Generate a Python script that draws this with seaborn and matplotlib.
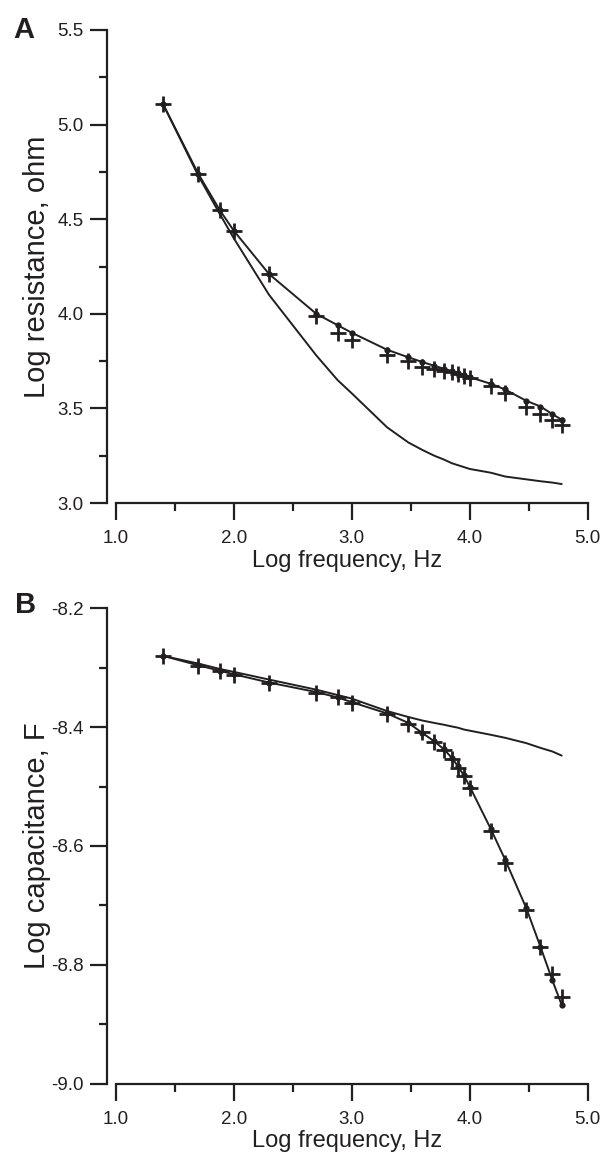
import numpy as np
import pandas as pd
import seaborn as sns
import matplotlib.pyplot as plt
from matplotlib.ticker import MultipleLocator, FormatStrFormatter

sns.set_theme(style="ticks")
plt.rcParams['font.family'] = ['Liberation Sans', 'DejaVu Sans']
plt.rcParams['axes.unicode_minus'] = False

ink = '#231f20'

# log frequency (Hz) of the measurement points
log_freq = [1.40, 1.70, 1.88, 2.00, 2.30, 2.70, 2.88, 3.00, 3.30, 3.48, 3.60, 3.70,
            3.78, 3.85, 3.90, 3.95, 4.00, 4.18, 4.30, 4.48, 4.60, 4.70, 4.78]

# panel A - log resistance
res_measured = [5.11, 4.74, 4.55, 4.44, 4.21, 3.99, 3.90, 3.86, 3.78, 3.75, 3.72, 3.71,
                3.70, 3.69, 3.68, 3.67, 3.66, 3.62, 3.58, 3.51, 3.47, 3.44, 3.41]
res_fit = [5.11, 4.74, 4.55, 4.44, 4.21, 4.00, 3.94, 3.90, 3.81, 3.77, 3.745, 3.725,
           3.71, 3.697, 3.685, 3.675, 3.665, 3.63, 3.60, 3.54, 3.51, 3.47, 3.44]
res_model = [5.11, 4.73, 4.53, 4.40, 4.10, 3.78, 3.65, 3.58, 3.40, 3.32, 3.28, 3.25,
             3.23, 3.21, 3.20, 3.19, 3.18, 3.16, 3.14, 3.125, 3.115, 3.108, 3.10]

# panel B - log capacitance
cap_measured = [-8.280, -8.297, -8.306, -8.312, -8.325, -8.342, -8.350, -8.359, -8.378,
                -8.394, -8.409, -8.425, -8.439, -8.453, -8.469, -8.483, -8.503, -8.575,
                -8.629, -8.708, -8.771, -8.815, -8.855]
cap_fit = [-8.280, -8.296, -8.305, -8.311, -8.325, -8.341, -8.350, -8.358, -8.377,
           -8.393, -8.410, -8.424, -8.437, -8.452, -8.466, -8.481, -8.500, -8.572,
           -8.623, -8.705, -8.770, -8.826, -8.868]
cap_model = [-8.280, -8.293, -8.302, -8.307, -8.320, -8.337, -8.346, -8.352, -8.373,
             -8.383, -8.389, -8.393, -8.396, -8.399, -8.401, -8.404, -8.406, -8.413,
             -8.418, -8.427, -8.435, -8.441, -8.448]

fig = plt.figure(figsize=(6.02, 11.55), dpi=100)
axA = fig.add_axes([107.3 / 602, 1 - 503 / 1155, 480.4 / 602, 473 / 1155])
axB = fig.add_axes([107.3 / 602, 1 - 1083.5 / 1155, 480.4 / 602, 475.2 / 1155])


def draw(ax, measured, fit, model):
    sns.lineplot(x=log_freq, y=model, ax=ax, color=ink, lw=1.4)
    sns.lineplot(x=log_freq, y=fit, ax=ax, color=ink, lw=1.4, marker='o',
                 markersize=4.5, markeredgecolor=ink, markeredgewidth=0)
    sns.lineplot(x=log_freq, y=measured, ax=ax, color=ink, linestyle='', marker='+',
                 markersize=11, markeredgecolor=ink, markeredgewidth=2)


def style(ax, ylo, yhi, ystep, yminor, ylabel):
    ax.set_xlim(0.929, 5.0)
    ax.set_ylim(ylo, yhi)
    sns.despine(ax=ax)
    ax.spines['bottom'].set_bounds(1.0, 5.0)
    for s in ('left', 'bottom'):
        ax.spines[s].set_color(ink)
        ax.spines[s].set_linewidth(1.6)
    ax.xaxis.set_major_locator(MultipleLocator(1.0))
    ax.xaxis.set_minor_locator(MultipleLocator(0.5))
    ax.yaxis.set_major_locator(MultipleLocator(ystep))
    ax.yaxis.set_minor_locator(MultipleLocator(yminor))
    ax.xaxis.set_major_formatter(FormatStrFormatter('%.1f'))
    ax.yaxis.set_major_formatter(FormatStrFormatter('%.1f'))
    ax.tick_params(which='major', length=12, width=1.6, color=ink, labelsize=13.5,
                   labelcolor=ink)
    ax.tick_params(which='minor', length=6, width=1.6, color=ink)
    ax.tick_params(axis='x', which='major', pad=7.5)
    ax.tick_params(axis='y', which='major', pad=5)
    ax.set_xlabel('Log frequency, Hz', fontsize=17, color=ink, labelpad=2)
    ax.set_ylabel(ylabel, fontsize=21, color=ink)
    ax.yaxis.set_label_coords(-0.118, 0.5)


draw(axA, res_measured, res_fit, res_model)
style(axA, 3.0, 5.5, 0.5, 0.25, 'Log resistance, ohm')

draw(axB, cap_measured, cap_fit, cap_model)
style(axB, -9.0, -8.2, 0.2, 0.1, 'Log capacitance, F')

fig.text(13 / 602, 1 - 30 / 1155, 'A', fontsize=21, fontweight='bold', color=ink, va='center')
fig.text(15 / 602, 1 - 605 / 1155, 'B', fontsize=21, fontweight='bold', color=ink, va='center')

fig.savefig('out.png', dpi=100)
